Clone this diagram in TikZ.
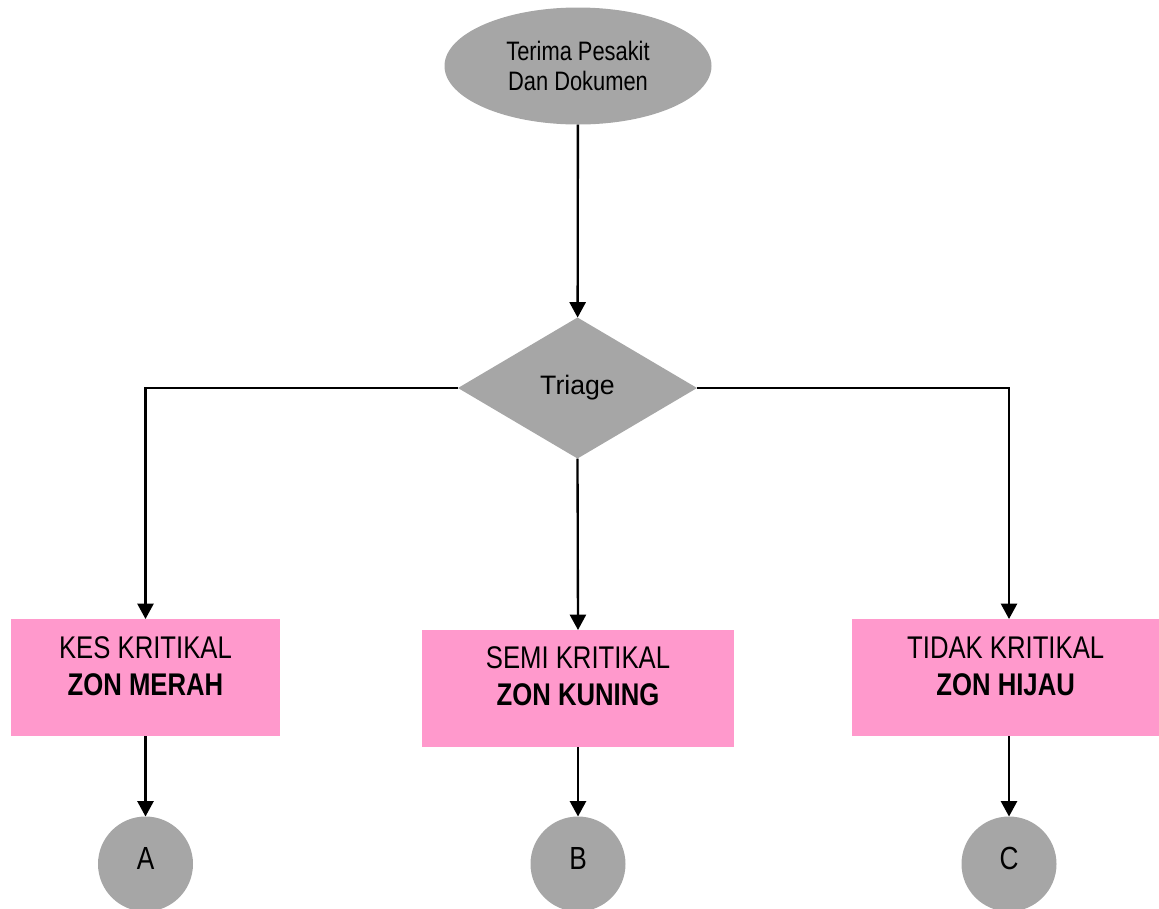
\documentclass[tikz,border=0pt]{standalone}
\usepackage{fontspec}
\setmainfont{Liberation Sans}[FakeStretch=0.82]
\newfontfamily\widefont{Liberation Sans}
\usetikzlibrary{shapes.geometric,arrows.meta}

\definecolor{flowgray}{RGB}{166,166,166}
\definecolor{zonpink}{RGB}{255,153,204}

\tikzset{every picture/.style={line width=0.75pt}}
\tikzset{
	startoval/.style={ellipse,fill=flowgray,outer sep=0pt,minimum width=200.25pt,minimum height=87.75pt,align=center,font=\fontsize{20}{22.5}\selectfont},
	triagebox/.style={diamond,fill=flowgray,outer sep=0pt,inner sep=0pt,minimum width=179.25pt,minimum height=105.75pt,font=\widefont\fontsize{20}{22}\selectfont},
	zonbox/.style={rectangle,fill=zonpink,outer sep=0pt,minimum height=87.75pt},
	zontext/.style={align=center,font=\fontsize{23.5}{27.75}\selectfont},
	linkcircle/.style={circle,fill=flowgray,outer sep=0pt,minimum size=71.25pt},
	linktext/.style={font=\fontsize{24}{26}\selectfont},
	flowarrow/.style={line width=1.75pt,-{Triangle[width=12pt,length=11.5pt]}}
}

\begin{document}
\begin{tikzpicture}[x=0.75pt,y=0.75pt,yscale=-1,xscale=1]
	\useasboundingbox (0,0) rectangle (1159,908);
	
	%Shape: Ellipse
	\node [startoval] (terima) at (578,66) {Terima Pesakit\\Dan Dokumen};
	%Shape: Diamond
	\node [triagebox] (triage) at (577.5,388) {Triage};
	
	%Shape: Rectangle
	\node [zonbox,minimum width=201.75pt] (kes) at (145.5,677.5) {};
	%Shape: Rectangle
	\node [zonbox,minimum width=234pt] (semi) at (578,688.5) {};
	%Shape: Rectangle
	\node [zonbox,minimum width=235.5pt] (tidak) at (1009,677.5) {};
	
	% Text Node
	\node [zontext] (kestext) at ([yshift=-8.5pt]kes.center) {KES KRITIKAL\\\textbf{ZON MERAH}};
	% Text Node
	\node [zontext] (semitext) at ([yshift=-9pt]semi.center) {SEMI KRITIKAL\\\textbf{ZON KUNING}};
	% Text Node
	\node [zontext] (tidaktext) at ([yshift=-8.5pt,xshift=-2.5pt]tidak.center) {TIDAK KRITIKAL\\\textbf{ZON HIJAU}};
	
	%Flowchart: Connector
	\node [linkcircle] (ca) at (145.5,864) {};
	%Flowchart: Connector
	\node [linkcircle] (cb) at (578,864) {};
	%Flowchart: Connector
	\node [linkcircle] (cc) at (1009,864) {};
	
	% Text Node
	\node [linktext] (catext) at ([yshift=-4.5pt]ca.center) {A};
	% Text Node
	\node [linktext] (cbtext) at ([yshift=-4.5pt]cb.center) {B};
	% Text Node
	\node [linktext] (cctext) at ([yshift=-4.5pt]cc.center) {C};
	
	%Straight Lines
	\draw [flowarrow] (terima) -- (triage);
	\draw [flowarrow] (triage.west) -| (kes.north);
	\draw [flowarrow] (triage.south) -- (semi.north);
	\draw [flowarrow] (triage.east) -| (tidak.north);
	
	%Straight Lines
	\draw [flowarrow] (kes) -- (ca);
	\draw [flowarrow] (semi) -- (cb);
	\draw [flowarrow] (tidak) -- (cc);
	
\end{tikzpicture}
\end{document}
